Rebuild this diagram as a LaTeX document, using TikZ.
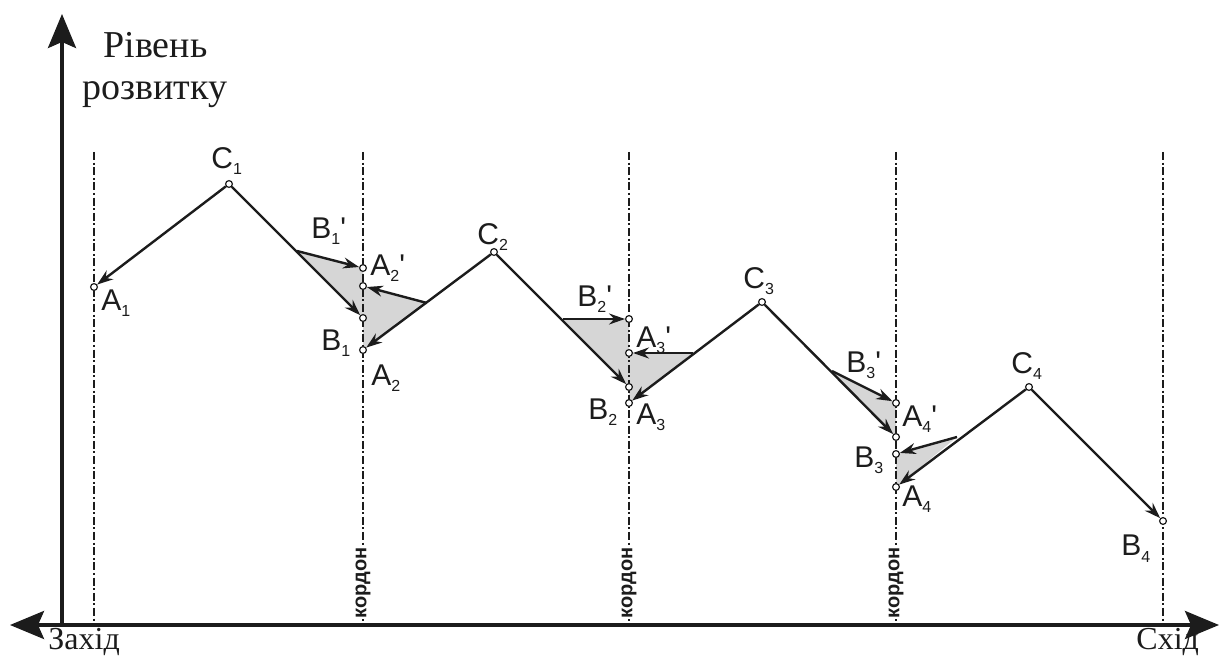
\documentclass[tikz,border=0pt]{standalone}
\usepackage{fontspec}
\setmainfont{Liberation Serif}
\setsansfont{Liberation Sans}
\usepackage{tikz}
\usetikzlibrary{arrows.meta, positioning}
\definecolor{ink}{HTML}{1C1C1C}
\definecolor{zonegray}{HTML}{D6D6D6}
\pgfdeclarelayer{background}
\pgfsetlayers{background,main}
\newcommand{\pname}[2]{#1\raisebox{-3pt}{\fontsize{8}{9}\selectfont #2}}
\newcommand{\pnamep}[2]{#1\raisebox{-3pt}{\fontsize{8}{9}\selectfont #2}\textquotesingle}

\begin{document}
\begin{tikzpicture}[
        x=0.5pt, y=-0.5pt,
        axis/.style={draw=ink, line width=1.8pt},
        bigtip/.style={-{Stealth[length=17pt, width=14pt, inset=3pt]}},
        link/.style={draw=ink, line width=1.2pt, -{Stealth[length=8pt, width=5.5pt]}},
        border/.style={draw=ink, line width=0.9pt, dash pattern=on 4pt off 1.3pt on 1pt off 1.3pt},
        dot/.style={circle, draw=ink, fill=white, line width=0.6pt, inner sep=0pt, minimum size=3.4pt},
        tag/.style={font=\sffamily\fontsize{15}{17}\selectfont, text=ink, inner sep=0pt, anchor=base west},
        word/.style={font=\rmfamily\fontsize{19}{21}\selectfont, text=ink, inner sep=0pt, anchor=base west},
        kordon/.style={font=\sffamily\bfseries\fontsize{10}{10}\selectfont, text=ink, fill=white, inner sep=0.5pt, rotate=90}
    ]
    \useasboundingbox (0,0) rectangle (1219,656);

    % осі
    \coordinate (o) at (62,625);
    \coordinate (top) at (62,14);
    \coordinate (west) at (10,625);
    \coordinate (east) at (1219,625);
    \draw[axis, bigtip] (o) -- (top);
    \draw[axis, {Stealth[length=17pt, width=14pt, inset=3pt]}-{Stealth[length=17pt, width=14pt, inset=3pt]}] (west) -- (east);

    % кордони
    \foreach \k/\x in {0/94, 1/363, 2/629, 3/896, 4/1163} {
        \coordinate (up\k) at (\x,152);
        \coordinate (dn\k) at (\x,625);
        \draw[border] (up\k) -- (dn\k);
    }
    \foreach \k/\x in {1/363, 2/629, 3/896}
        \node[kordon] (kn\k) at (\x,583) {кордон};

    % точки
    \node[dot] (a1) at (94,287) {};
    \node[dot] (c1) at (229,184) {};
    \coordinate (b1p) at (297,251);
    \node[dot] (a2p) at (363,268) {};
    \node[dot] (m1) at (363,286) {};
    \node[dot] (b1) at (363,318) {};
    \node[dot] (a2) at (363,350) {};
    \coordinate (r1) at (427,303);
    \node[dot] (c2) at (494,252) {};
    \coordinate (b2p) at (563,319);
    \node[dot] (a3p) at (629,319) {};
    \node[dot] (m2) at (629,353) {};
    \coordinate (r2) at (693,353);
    \node[dot] (b2) at (629,387) {};
    \node[dot] (a3) at (629,403) {};
    \node[dot] (c3) at (762,302) {};
    \coordinate (b3p) at (832,371);
    \node[dot] (a4p) at (896,403) {};
    \node[dot] (b3) at (896,437) {};
    \node[dot] (m3) at (896,454) {};
    \coordinate (r3) at (957,437);
    \node[dot] (a4) at (896,487) {};
    \node[dot] (c4) at (1029,387) {};
    \node[dot] (b4) at (1163,521) {};

    % сірі трикутники
    \begin{pgfonlayer}{background}
        \fill[zonegray] (b1p) -- (a2p.center) -- (b1.center) -- cycle;
        \fill[zonegray] (r1) -- (m1.center) -- (a2.center) -- cycle;
        \fill[zonegray] (b2p) -- (a3p.center) -- (b2.center) -- cycle;
        \fill[zonegray] (r2) -- (m2.center) -- (a3.center) -- cycle;
        \fill[zonegray] (b3p) -- (a4p.center) -- (b3.center) -- cycle;
        \fill[zonegray] (r3) -- (m3.center) -- (a4.center) -- cycle;
    \end{pgfonlayer}

    % стрілки
    \draw[link] (c1) -- (a1);
    \draw[link] (c1) -- (b1);
    \draw[link] (b1p) -- (a2p);
    \draw[link] (r1) -- (m1);
    \draw[link] (c2) -- (a2);
    \draw[link] (c2) -- (b2);
    \draw[link] (b2p) -- (a3p);
    \draw[link] (r2) -- (m2);
    \draw[link] (c3) -- (a3);
    \draw[link] (c3) -- (b3);
    \draw[link] (b3p) -- (a4p);
    \draw[link] (r3) -- (m3);
    \draw[link] (c4) -- (a4);
    \draw[link] (c4) -- (b4);

    % підписи точок
    \node[tag] (la1) at (101,311) {\pname{A}{1}};
    \node[tag] (lc1) at (211,169) {\pname{C}{1}};
    \node[tag] (lb1p) at (311,239) {\pnamep{B}{1}};
    \node[tag] (la2p) at (370,276) {\pnamep{A}{2}};
    \node[tag] (lb1) at (321,351) {\pname{B}{1}};
    \node[tag] (la2) at (371,386) {\pname{A}{2}};
    \node[tag] (lc2) at (477,245) {\pname{C}{2}};
    \node[tag] (lb2p) at (577,307) {\pnamep{B}{2}};
    \node[tag] (la3p) at (636,348) {\pnamep{A}{3}};
    \node[tag] (lb2) at (588,420) {\pname{B}{2}};
    \node[tag] (la3) at (636,425) {\pname{A}{3}};
    \node[tag] (lc3) at (743,289) {\pname{C}{3}};
    \node[tag] (lb3p) at (846,373) {\pnamep{B}{3}};
    \node[tag] (la4p) at (902,427) {\pnamep{A}{4}};
    \node[tag] (lb3) at (854,468) {\pname{B}{3}};
    \node[tag] (la4) at (902,507) {\pname{A}{4}};
    \node[tag] (lc4) at (1011,374) {\pname{C}{4}};
    \node[tag] (lb4) at (1121,556) {\pname{B}{4}};

    % назви осей
    \node[word] (lev) at (103,58) {Рівень};
    \node[word] (dev) at (82,100) {розвитку};
    \node[word, font=\rmfamily\fontsize{16}{18}\selectfont] (zah) at (48,649) {Захід};
    \node[word, font=\rmfamily\fontsize{16}{18}\selectfont] (shid) at (1136,649) {Схід};

\end{tikzpicture}
\end{document}
